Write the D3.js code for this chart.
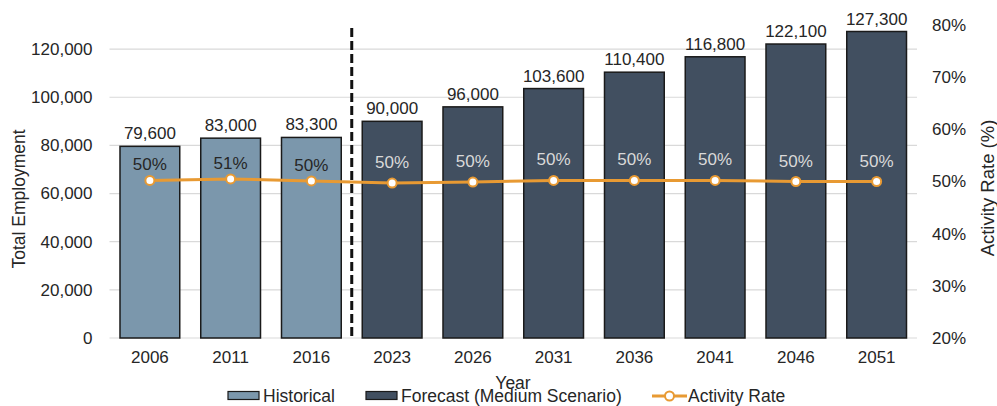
<!DOCTYPE html>
<html>
<head>
<meta charset="utf-8">
<script src="https://cdn.jsdelivr.net/npm/d3@7"></script>
<style>
  body { margin: 0; background: #fff; }
  text { font-family: "Liberation Sans", Arial, sans-serif; fill: #262626; }
</style>
</head>
<body>
<script>
// chart data
var years = ["2006", "2011", "2016", "2023", "2026", "2031", "2036", "2041", "2046", "2051"];
var employment = [79600, 83000, 83300, 90000, 96000, 103600, 110400, 116800, 122100, 127300];
var activityRate = [50.2, 50.5, 50.1, 49.7, 49.9, 50.2, 50.2, 50.2, 50.0, 50.0];
var historicalYears = ["2006", "2011", "2016"];
var leftTicks = [0, 20000, 40000, 60000, 80000, 100000, 120000];
var rightTicks = [20, 30, 40, 50, 60, 70, 80];
var legendLabels = ["Historical", "Forecast (Medium Scenario)", "Activity Rate"];

var W = 997, H = 406;
var plotL = 109.5, plotR = 917, plotT = 25, plotB = 338;
var fs = "17px";

var histColor = "#7b97ac";
var foreColor = "#414f60";
var lineColor = "#e89a33";

var svg = d3.select("body").append("svg")
    .attr("width", W)
    .attr("height", H);

// scales
var x = d3.scaleBand()
    .domain(years)
    .range([plotL, plotR])
    .paddingInner(0.26)
    .paddingOuter(0.13);

var y = d3.scaleLinear()
    .domain([0, 130000])
    .range([plotB, plotT]);

var y2 = d3.scaleLinear()
    .domain([20, 80])
    .range([plotB, plotT]);

var isHist = function (d) { return historicalYears.indexOf(d) >= 0; };

// gridlines
svg.append("g")
    .selectAll("line")
    .data(leftTicks)
    .enter().append("line")
    .attr("x1", plotL)
    .attr("x2", plotR)
    .attr("y1", function (d) { return y(d); })
    .attr("y2", function (d) { return y(d); })
    .attr("stroke", "#d9d9d9")
    .attr("stroke-width", 1.2);

// left axis
var yAxis = svg.append("g")
    .attr("transform", "translate(" + plotL + ",0)")
    .call(d3.axisLeft(y).tickValues(leftTicks).tickFormat(d3.format(",")).tickSize(0).tickPadding(17));
yAxis.select(".domain").remove();
yAxis.selectAll("text").style("font-size", fs).attr("fill", "#262626");

// right axis
var y2Axis = svg.append("g")
    .attr("transform", "translate(" + plotR + ",0)")
    .call(d3.axisRight(y2).tickValues(rightTicks).tickFormat(function (d) { return d + "%"; }).tickSize(0).tickPadding(15));
y2Axis.select(".domain").remove();
y2Axis.selectAll("text").style("font-size", fs).attr("fill", "#262626");

// x axis
var xAxis = svg.append("g")
    .attr("transform", "translate(0," + plotB + ")")
    .call(d3.axisBottom(x).tickSize(0).tickPadding(13));
xAxis.select(".domain").remove();
xAxis.selectAll("text").style("font-size", fs).attr("fill", "#262626");

// bars
svg.append("g")
    .selectAll("rect")
    .data(years)
    .enter().append("rect")
    .attr("x", function (d) { return x(d); })
    .attr("y", function (d, i) { return y(employment[i]); })
    .attr("width", x.bandwidth())
    .attr("height", function (d, i) { return plotB - y(employment[i]); })
    .attr("fill", function (d) { return isHist(d) ? histColor : foreColor; })
    .attr("stroke", "#1a1a1a")
    .attr("stroke-width", 1.5);

// value labels
svg.append("g")
    .selectAll("text")
    .data(years)
    .enter().append("text")
    .attr("x", function (d) { return x(d) + x.bandwidth() / 2; })
    .attr("y", function (d, i) { return y(employment[i]) - 7; })
    .attr("text-anchor", "middle")
    .style("font-size", fs)
    .text(function (d, i) { return d3.format(",")(employment[i]); });

// dashed separator between historical and forecast
var sepX = (x("2016") + x.bandwidth() + x("2023")) / 2;
svg.append("line")
    .attr("x1", sepX)
    .attr("x2", sepX)
    .attr("y1", 28)
    .attr("y2", plotB)
    .attr("stroke", "#111")
    .attr("stroke-width", 3)
    .attr("stroke-dasharray", "9,4");

// activity rate line
var cx = function (d) { return x(d) + x.bandwidth() / 2; };
var line = d3.line()
    .x(function (d) { return cx(d); })
    .y(function (d, i) { return y2(activityRate[i]); });

svg.append("path")
    .datum(years)
    .attr("d", line)
    .attr("fill", "none")
    .attr("stroke", lineColor)
    .attr("stroke-width", 3);

svg.append("g")
    .selectAll("circle")
    .data(years)
    .enter().append("circle")
    .attr("cx", cx)
    .attr("cy", function (d, i) { return y2(activityRate[i]); })
    .attr("r", 4.5)
    .attr("fill", "#fff")
    .attr("stroke", lineColor)
    .attr("stroke-width", 2);

// rate labels
svg.append("g")
    .selectAll("text")
    .data(years)
    .enter().append("text")
    .attr("x", cx)
    .attr("y", function (d, i) { return y2(activityRate[i]) - (isHist(d) ? 10 : 15); })
    .attr("text-anchor", "middle")
    .style("font-size", fs)
    .style("fill", function (d) { return isHist(d) ? "#262626" : "#d9d9d9"; })
    .text(function (d, i) { return Math.round(activityRate[i]) + "%"; });

// axis titles
svg.append("text")
    .attr("transform", "translate(25,199) rotate(-90)")
    .attr("text-anchor", "middle")
    .style("font-size", "17.5px")
    .text("Total Employment");

svg.append("text")
    .attr("transform", "translate(994,188) rotate(-90)")
    .attr("text-anchor", "middle")
    .style("font-size", "18.5px")
    .text("Activity Rate (%)");

svg.append("text")
    .attr("x", 513)
    .attr("y", 389)
    .attr("text-anchor", "middle")
    .style("font-size", "17.5px")
    .text("Year");

// legend
var legend = svg.append("g");
var lgX = [228, 366, 652];

legend.append("rect")
    .attr("x", lgX[0]).attr("y", 391.5)
    .attr("width", 31).attr("height", 8)
    .attr("fill", histColor).attr("stroke", "#1a1a1a").attr("stroke-width", 1.2);
legend.append("rect")
    .attr("x", lgX[1]).attr("y", 391.5)
    .attr("width", 31).attr("height", 8)
    .attr("fill", foreColor).attr("stroke", "#1a1a1a").attr("stroke-width", 1.2);
legend.append("line")
    .attr("x1", lgX[2]).attr("x2", lgX[2] + 35)
    .attr("y1", 396).attr("y2", 396)
    .attr("stroke", lineColor).attr("stroke-width", 3);
legend.append("circle")
    .attr("cx", lgX[2] + 17.5).attr("cy", 396).attr("r", 4.5)
    .attr("fill", "#fff").attr("stroke", lineColor).attr("stroke-width", 2);

legend.selectAll("text.lg")
    .data(legendLabels)
    .enter().append("text")
    .attr("class", "lg")
    .attr("x", function (d, i) { return lgX[i] + (i < 2 ? 35 : 36); })
    .attr("y", 402)
    .style("font-size", "17.5px")
    .text(function (d) { return d; });
</script>
</body>
</html>
